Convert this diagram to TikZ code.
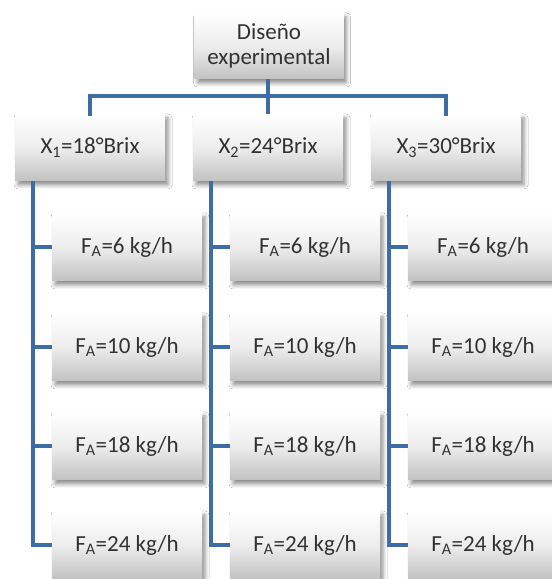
\documentclass[tikz,border=0pt]{standalone}
\usepackage{fontspec}
\setmainfont{Carlito}
\usetikzlibrary{shadows.blur}
\definecolor{linkblue}{RGB}{62,108,164}
\definecolor{textgray}{RGB}{50,50,50}
\tikzset{
  x=1pt, y=1pt,
  card/.style={rectangle, minimum width=150pt, minimum height=67pt,
    top color=white, bottom color=black!24, middle color=black!7,
    shading angle=0, draw=none,
    blur shadow={shadow xshift=3pt, shadow yshift=-4pt, shadow blur radius=4pt, shadow opacity=45},
    text=textgray, font=\fontsize{23}{25}\selectfont, align=center, inner sep=0pt},
  link/.style={draw=linkblue, line width=4pt}
}
\begin{document}
\begin{tikzpicture}
\clip (0,0) rectangle (552,579);
\fill[white] (0,0) rectangle (552,579);

% root
\node[card, minimum width=149pt, minimum height=66pt] (root) at (269,533) {Diseño\\experimental};

% second level
\node[card] (x1) at (90,431.5)  {X\textsubscript{1}=18°Brix};
\node[card] (x2) at (268,431.5) {X\textsubscript{2}=24°Brix};
\node[card] (x3) at (446,431.5) {X\textsubscript{3}=30°Brix};

% third level
\foreach \c/\cx in {1/127, 2/305, 3/483}{
  \node[card, minimum height=68pt] (f\c a) at (\cx,332) {F\textsubscript{A}=6 kg/h};
  \node[card, minimum height=68pt] (f\c b) at (\cx,232) {F\textsubscript{A}=10 kg/h};
  \node[card, minimum height=68pt] (f\c c) at (\cx,133) {F\textsubscript{A}=18 kg/h};
  \node[card, minimum height=68pt] (f\c d) at (\cx,34)  {F\textsubscript{A}=24 kg/h};
}

% bus from root to second level
\coordinate (bus) at (268,483);
\draw[link] (root.south -| bus) -- (bus);
\draw[link, line cap=rect] (x1.north) |- (bus) -| (x3.north);
\draw[link] (bus) -- (x2.north);

% spines from each second-level box to its children
\foreach \c in {1,2,3}{
  \coordinate (sp\c) at ([xshift=18pt]x\c.south west);
  \draw[link] (sp\c) |- (f\c d.west);
  \foreach \r in {a,b,c}{
    \draw[link] (sp\c |- f\c\r.west) -- (f\c\r.west);
  }
}
\end{tikzpicture}
\end{document}
